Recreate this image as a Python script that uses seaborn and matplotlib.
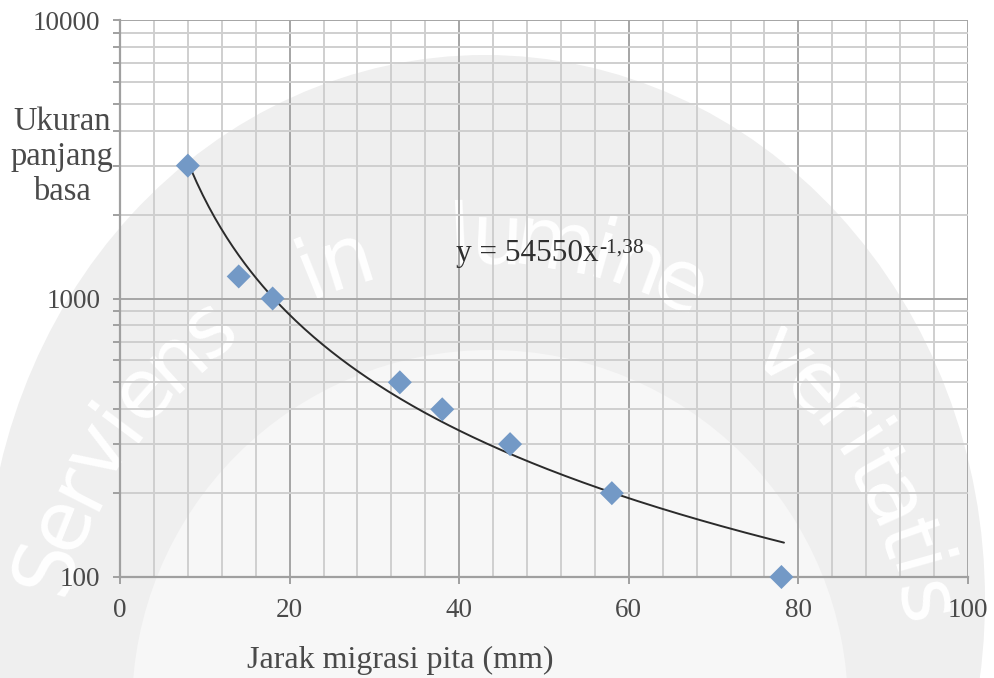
import numpy as np
import pandas as pd
import matplotlib
matplotlib.use("Agg")
import matplotlib.pyplot as plt
from matplotlib.patches import Ellipse
from matplotlib.ticker import FixedLocator, LogLocator, NullFormatter
import seaborn as sns

# data
distance_mm = [8, 14, 18, 33, 38, 46, 58, 78]
base_pairs = [3000, 1200, 1000, 500, 400, 300, 200, 100]
fit_coef = 54550
fit_exp = -1.38
x_ticks = [0, 20, 40, 60, 80, 100]
y_ticks = [100, 1000, 10000]
equation_label = "y = 54550x"
equation_power = "-1,38"
x_title = "Jarak migrasi pita (mm)"
y_title = "Ukuran\npanjang\nbasa"
watermark = "Serviens in lumine veritatis"

sns.set_theme(style="white")
plt.rcParams["font.family"] = ["Liberation Serif", "DejaVu Serif"]

W, H = 994, 678
txt = "#4a4a4a"
fig = plt.figure(figsize=(W / 100, H / 100), dpi=100)
fig.patch.set_facecolor("white")

# faint watermark (background logo)
def oval(cx, cy, rx, ry, color, z):
    e = Ellipse((cx / W, 1 - cy / H), 2 * rx / W, 2 * ry / H, transform=fig.transFigure,
                facecolor=color, edgecolor="none", zorder=z)
    fig.patches.append(e)

oval(485, 600, 500, 545, "#efefef", -10)
oval(490, 708, 358, 358, "#f7f7f7", -9)

wcx, wcy, wrad = 480, 690, 450
weights = []
for ch in watermark:
    if ch == " ":
        weights.append(1.7)
    elif ch in "ilt":
        weights.append(0.65)
    elif ch == "r":
        weights.append(0.75)
    elif ch == "m":
        weights.append(1.5)
    else:
        weights.append(1.0)
cum = np.concatenate([[0], np.cumsum([(weights[i] + weights[i + 1]) / 2
                                      for i in range(len(weights) - 1)])])
angles = 164 + (11 - 164) * cum / cum[-1]
for ch, a in zip(watermark, angles):
    if ch == " ":
        continue
    ang = np.deg2rad(a)
    px = wcx + wrad * np.cos(ang)
    py = wcy - wrad * np.sin(ang)
    fig.text(px / W, 1 - py / H, ch, fontsize=60, color="white", family="DejaVu Sans",
             rotation=a - 90, ha="center", va="center", rotation_mode="anchor", zorder=-8)

ax = fig.add_axes([120 / W, 1 - 577 / H, 848 / W, 557 / H])
ax.set_facecolor("none")

df = pd.DataFrame({"x": distance_mm, "y": base_pairs})
xs = np.linspace(min(distance_mm), 78.3, 200)
trend = pd.DataFrame({"x": xs, "y": fit_coef * xs ** fit_exp})

ax.set_yscale("log")
sns.lineplot(data=trend, x="x", y="y", ax=ax, color="#2b2b2b", lw=1.4, zorder=3)
sns.scatterplot(data=df, x="x", y="y", ax=ax, marker="D", s=150, color="#7399c6",
                edgecolor="none", zorder=4, clip_on=False)

ax.set_xlim(0, 100)
ax.set_ylim(100, 10000)
ax.xaxis.set_major_locator(FixedLocator(x_ticks))
ax.xaxis.set_minor_locator(FixedLocator(np.arange(0, 101, 4)))
ax.yaxis.set_major_locator(FixedLocator(y_ticks))
ax.yaxis.set_minor_locator(LogLocator(base=10, subs=np.arange(2, 10)))
ax.yaxis.set_minor_formatter(NullFormatter())
ax.set_yticklabels([str(v) for v in y_ticks])
ax.set_xticklabels([str(v) for v in x_ticks])

ax.grid(True, which="minor", color="#cfcfcf", lw=1.4, zorder=0)
ax.grid(True, which="major", color="#a5a5a5", lw=1.4, zorder=1)
ax.set_axisbelow(True)
for s in ["top", "right"]:
    ax.spines[s].set_visible(False)
for s in ["left", "bottom"]:
    ax.spines[s].set_color("#a0a0a0")
    ax.spines[s].set_linewidth(1.6)

ax.tick_params(axis="x", which="major", direction="out", length=5, width=1.4,
               color="#a0a0a0", labelsize=19.5, labelcolor=txt, pad=10, bottom=True)
ax.tick_params(axis="x", which="minor", length=0)
ax.tick_params(axis="y", which="both", direction="out", length=5, width=1.4,
               color="#a0a0a0", labelsize=19.5, labelcolor=txt, pad=9, left=True)
ax.set_xlabel("")
ax.set_ylabel("")

eq = ax.text(39.6, 1363, equation_label, fontsize=22.5, color="#303030",
             va="baseline", ha="left", zorder=5)
ax.annotate(equation_power, xy=(1, 1), xycoords=eq, xytext=(0.5, 0),
            textcoords="offset points", fontsize=15.5, color="#303030",
            va="top", ha="left", zorder=5)

fig.text(400 / W, 1 - 660 / H, x_title, fontsize=23, color=txt, ha="center", va="center")
fig.text(62 / W, 1 - 157 / H, y_title, fontsize=23.5, color=txt, ha="center", va="center",
         multialignment="center", linespacing=1.2)

fig.savefig("out.png", dpi=100)
